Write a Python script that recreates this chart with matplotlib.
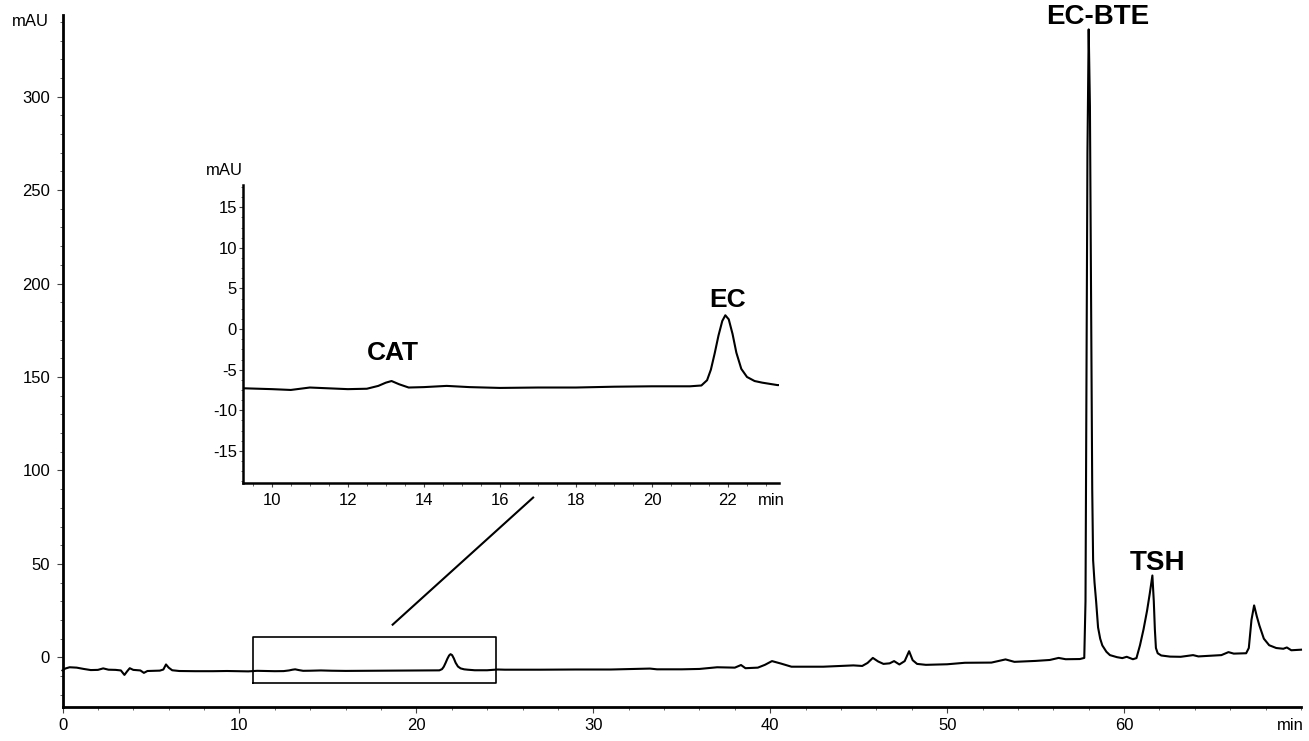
import matplotlib
matplotlib.use("Agg")
import matplotlib.pyplot as plt
from matplotlib.ticker import MultipleLocator

plt.rcParams['font.family'] = ['Liberation Sans', 'DejaVu Sans']
plt.rcParams['axes.unicode_minus'] = False

# trace (time in min, signal in mAU)
tiempo = [0.0, 0.15, 0.4, 0.8, 1.2, 1.6, 2.0, 2.3, 2.6, 3.0, 3.3, 3.5, 3.65, 3.8, 4.0,
          4.4, 4.6, 4.8, 5.2, 5.5, 5.7, 5.85, 6.0, 6.2, 6.6, 7.5, 8.5, 9.3, 10.0, 10.5,
          11.0, 11.5, 12.0, 12.5, 12.8, 13.0, 13.15, 13.35, 13.6, 14.0, 14.6, 15.2, 16.0,
          17.0, 18.0, 19.0, 20.0, 21.0, 21.3, 21.45, 21.55, 21.65, 21.75, 21.85, 21.93,
          22.02, 22.12, 22.22, 22.35, 22.5, 22.7, 22.9, 23.3, 24.0, 24.6, 25.0, 27.0,
          29.0, 31.0, 33.2, 33.6, 35.0, 36.0, 37.0, 38.0, 38.35, 38.6, 39.3, 39.7, 40.1,
          40.6, 41.2, 43.0, 44.7, 45.2, 45.5, 45.8, 46.1, 46.4, 46.75, 47.0, 47.3, 47.6,
          47.85, 48.05, 48.3, 48.8, 50.0, 51.0, 52.5, 53.3, 53.8, 55.0, 55.8, 56.3, 56.7,
          57.5, 57.75, 57.82, 57.87, 57.93, 58.0, 58.07, 58.14, 58.2, 58.25, 58.33, 58.42,
          58.53, 58.65, 58.77, 59.0, 59.2, 59.6, 59.9, 60.15, 60.5, 60.7, 60.9, 61.1, 61.3,
          61.45, 61.6, 61.68, 61.74, 61.8, 61.9, 62.1, 62.6, 63.2, 63.9, 64.2, 65.0, 65.5,
          65.9, 66.2, 66.9, 67.05, 67.2, 67.35, 67.5, 67.65, 67.9, 68.2, 68.6, 69.0, 69.2,
          69.45, 70.0]
senal = [-7.0, -6.0, -5.3, -5.5, -6.2, -6.8, -6.7, -5.9, -6.6, -6.7, -7.0, -9.4, -7.5, -5.8, -6.7,
         -7.0, -8.3, -7.3, -7.2, -7.1, -6.5, -3.8, -5.5, -6.9, -7.3, -7.4, -7.4, -7.3, -7.4, -7.5,
         -7.2, -7.3, -7.4, -7.35, -7.0, -6.6, -6.4, -6.8, -7.2, -7.15, -7.0, -7.15, -7.25,
         -7.2, -7.2, -7.1, -7.05, -7.05, -6.95, -6.3, -5.0, -3.0, -0.8, 1.0, 1.7,
         1.2, -0.6, -2.9, -4.9, -5.9, -6.4, -6.6, -6.9, -6.9, -6.5, -6.6, -6.6,
         -6.5, -6.5, -6.0, -6.4, -6.4, -6.2, -5.3, -5.5, -4.1, -5.8, -5.5, -4.0, -2.0,
         -3.3, -5.0, -5.0, -4.3, -4.6, -3.0, -0.3, -2.2, -3.5, -3.2, -2.0, -3.8, -2.0,
         3.3, -1.5, -3.5, -4.0, -3.7, -2.9, -2.8, -1.1, -2.4, -1.9, -1.4, -0.3, -1.0,
         -0.9, -0.3, 30.0, 135.0, 270.0, 336.0, 295.0, 180.0, 90.0, 52.0, 40.0, 30.0,
         16.0, 10.0, 6.4, 3.0, 1.2, 0.1, -0.4, 0.3, -1.0, -0.4, 6.5, 15.0, 25.0,
         34.0, 43.8, 30.0, 15.0, 5.0, 2.2, 1.0, 0.4, 0.3, 1.2, 0.5, 0.9, 1.2,
         2.8, 2.0, 2.2, 5.0, 20.0, 27.8, 22.0, 17.0, 10.0, 6.5, 5.0, 4.6, 5.3,
         3.8, 4.1]

# peak labels
picos = ["EC-BTE", "TSH"]
picos_x = [58.5, 61.9]
picos_y = [342.5, 50.3]
picos_inset = ["CAT", "EC"]
picos_inset_x = [13.19, 22.0]
picos_inset_y = [-3.0, 3.6]

# zoomed window (rectangle) and link line
rect_t = [10.75, 24.5]
rect_y = [-13.9, 11.0]
linea_t = [18.66, 26.6]
linea_y = [17.5, 85.5]

fig = plt.figure(figsize=(13.09, 7.41), dpi=100)

# main chromatogram
ax = fig.add_axes([0.04775, 0.04629, 0.94614, 0.93347])
ax.plot(tiempo, senal, color='black', lw=1.5, clip_on=False)
ax.set_xlim(0, 70)
ax.set_ylim(-26.4, 343.7)
for lado in ['top', 'right']:
    ax.spines[lado].set_visible(False)
for lado in ['left', 'bottom']:
    ax.spines[lado].set_linewidth(2.0)
ax.xaxis.set_minor_locator(MultipleLocator(2))
ax.yaxis.set_minor_locator(MultipleLocator(10))
ax.set_xticks([0, 10, 20, 30, 40, 50, 60])
ax.set_yticks([0, 50, 100, 150, 200, 250, 300])
ax.tick_params(axis='both', which='major', length=4, width=0.8, color='#444444',
               labelsize=12, direction='out')
ax.tick_params(axis='both', which='minor', length=2.2, width=0.7, color='#666666',
               direction='out')
ax.tick_params(axis='y', which='major', pad=5)
ax.tick_params(axis='x', which='major', pad=4)
ax.text(-0.011, 340, "mAU", transform=ax.get_yaxis_transform(), ha='right',
        va='center', fontsize=12)
ax.text(69.4, -0.017, "min", transform=ax.get_xaxis_transform(), ha='center',
        va='top', fontsize=12)

for nombre, px, py in zip(picos, picos_x, picos_y):
    ax.text(px, py, nombre, ha='center', va='center', fontsize=20, fontweight='bold')

ax.plot([rect_t[0], rect_t[1], rect_t[1], rect_t[0], rect_t[0]],
        [rect_y[0], rect_y[0], rect_y[1], rect_y[1], rect_y[0]],
        color='black', lw=1.2)
ax.plot(linea_t, linea_y, color='black', lw=1.5)

# inset zoom on 9-23 min
ins = fig.add_axes([0.18587, 0.34777, 0.40947, 0.40257])
ins.plot(tiempo, senal, color='black', lw=1.5)
ins.set_xlim(9.25, 23.35)
ins.set_ylim(-19.0, 17.75)
ins.patch.set_alpha(0)
for lado in ['top', 'right']:
    ins.spines[lado].set_visible(False)
for lado in ['left', 'bottom']:
    ins.spines[lado].set_linewidth(1.8)
ins.set_xticks([10, 12, 14, 16, 18, 20, 22])
ins.set_yticks([-15, -10, -5, 0, 5, 10, 15])
ins.xaxis.set_minor_locator(MultipleLocator(0.5))
ins.yaxis.set_minor_locator(MultipleLocator(1.25))
ins.tick_params(axis='both', which='major', length=3, width=0.8, color='#444444',
                labelsize=12, direction='out')
ins.tick_params(axis='both', which='minor', length=1.8, width=0.7, color='#666666',
                direction='out')
ins.tick_params(axis='y', which='major', pad=1.5)
ins.tick_params(axis='x', which='major', pad=4)
ins.text(0.0, 19.5, "mAU", transform=ins.get_yaxis_transform(), ha='right',
         va='center', fontsize=12)
ins.text(23.15, -0.033, "min", transform=ins.get_xaxis_transform(), ha='center',
         va='top', fontsize=12)
for nombre, px, py in zip(picos_inset, picos_inset_x, picos_inset_y):
    ins.text(px, py, nombre, ha='center', va='center', fontsize=19, fontweight='bold')

fig.savefig("out.png", dpi=100)
